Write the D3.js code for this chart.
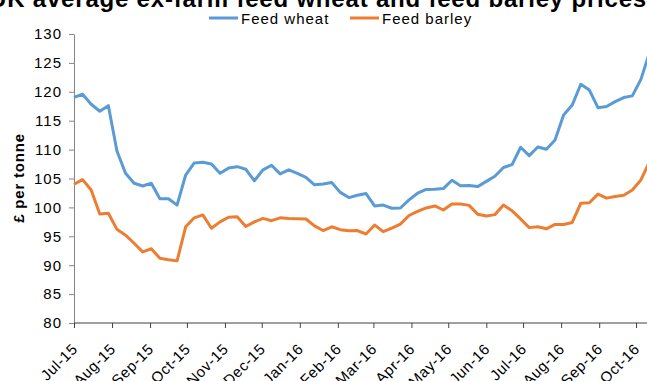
<!DOCTYPE html>
<html>
<head>
<meta charset="utf-8">
<script src="https://cdn.jsdelivr.net/npm/d3@7"></script>
<style>
  html, body { margin: 0; padding: 0; background: #fff; }
  svg { display: block; font-family: Arial, "Liberation Sans", sans-serif; }
</style>
</head>
<body>
<svg id="chart" width="647" height="381"></svg>
<script>
// Weekly ex-farm prices, £ per tonne
const weeks = [
  "2015-07-01","2015-07-08","2015-07-15","2015-07-22","2015-07-29",
  "2015-08-05","2015-08-12","2015-08-19","2015-08-26",
  "2015-09-02","2015-09-09","2015-09-16","2015-09-23","2015-09-30",
  "2015-10-07","2015-10-14","2015-10-21","2015-10-28",
  "2015-11-04","2015-11-11","2015-11-18","2015-11-25",
  "2015-12-02","2015-12-09","2015-12-16","2015-12-23","2015-12-30",
  "2016-01-06","2016-01-13","2016-01-20","2016-01-27",
  "2016-02-03","2016-02-10","2016-02-17","2016-02-24",
  "2016-03-02","2016-03-09","2016-03-16","2016-03-23","2016-03-30",
  "2016-04-06","2016-04-13","2016-04-20","2016-04-27",
  "2016-05-04","2016-05-11","2016-05-18","2016-05-25",
  "2016-06-01","2016-06-08","2016-06-15","2016-06-22","2016-06-29",
  "2016-07-06","2016-07-13","2016-07-20","2016-07-27",
  "2016-08-03","2016-08-10","2016-08-17","2016-08-24","2016-08-31",
  "2016-09-07","2016-09-14","2016-09-21","2016-09-28",
  "2016-10-05","2016-10-12"
];

const feedWheat = [
  119.05, 119.57, 117.84, 116.63, 117.6,
  109.76, 105.9, 104.17, 103.7,
  104.17, 101.5, 101.5, 100.4, 105.6,
  107.7, 107.8, 107.5, 105.9,
  106.8, 107.05, 106.6, 104.6,
  106.5, 107.3, 105.8, 106.5, 105.9,
  105.2, 103.9, 104.05, 104.3,
  102.6, 101.7, 102.1, 102.4,
  100.25, 100.4, 99.85, 99.9, 101.3,
  102.45, 103.1, 103.15, 103.25,
  104.7, 103.75, 103.8, 103.6,
  104.5, 105.4, 106.9, 107.4, 110.4,
  108.95, 110.45, 110.05, 111.65,
  116.0, 117.7, 121.3, 120.3, 117.25,
  117.45, 118.3, 119.0, 119.3,
  122.15, 126.8
];

const feedBarley = [
  104.0, 104.8, 103.0, 98.85, 99.0,
  96.2, 95.2, 93.8, 92.3,
  92.85, 91.2, 90.95, 90.75, 96.65,
  98.2, 98.7, 96.4, 97.5,
  98.3, 98.4, 96.7, 97.5,
  98.1, 97.7, 98.2, 98.1, 98.05,
  98.0, 96.8, 96.0, 96.65,
  96.15, 95.95, 96.0, 95.4,
  96.95, 95.8, 96.4, 97.1, 98.6,
  99.3, 99.9, 100.25, 99.55,
  100.6, 100.6, 100.35, 98.8,
  98.5, 98.75, 100.4, 99.4, 98.0,
  96.5, 96.65, 96.3, 97.05,
  97.05, 97.4, 100.7, 100.8, 102.3,
  101.6, 101.9, 102.1, 103.0,
  104.75, 107.9
];

const monthLabels = [
  "Jul-15","Aug-15","Sep-15","Oct-15","Nov-15","Dec-15","Jan-16","Feb-16",
  "Mar-16","Apr-16","May-16","Jun-16","Jul-16","Aug-16","Sep-16","Oct-16"
];

const yTicks = [80, 85, 90, 95, 100, 105, 110, 115, 120, 125, 130];

const seriesNames = ["Feed wheat", "Feed barley"];
const seriesColors = ["#5B9BD5", "#ED7D31"];

const W = 647, H = 381;
const plotLeft = 74, plotRight = 636, plotTop = 34, plotBottom = 323;
const FONT = "Arial, 'Liberation Sans', sans-serif";

const parseDay = d3.timeParse("%Y-%m-%d");
const parseMonth = d3.timeParse("%b-%y");
const dates = weeks.map(parseDay);
const monthDates = monthLabels.map(parseMonth);

const x = d3.scaleTime()
  .domain([monthDates[0], monthDates[monthDates.length - 1]])
  .range([plotLeft, plotRight]);

const y = d3.scaleLinear()
  .domain([80, 130])
  .range([plotBottom, plotTop]);

const svg = d3.select("#chart");

// Title (runs off the top edge)
svg.append("text")
  .attr("x", 318)
  .attr("y", 7)
  .attr("text-anchor", "middle")
  .attr("font-weight", "bold")
  .attr("font-size", 24)
  .attr("letter-spacing", 0.8)
  .attr("fill", "#000")
  .text("UK average ex-farm feed wheat and feed barley prices");

// Legend
const legend = svg.append("g");
const legendItems = [
  { name: seriesNames[0], color: seriesColors[0], x0: 209 },
  { name: seriesNames[1], color: seriesColors[1], x0: 350 }
];
legendItems.forEach(it => {
  legend.append("line")
    .attr("x1", it.x0).attr("x2", it.x0 + 29)
    .attr("y1", 18).attr("y2", 18)
    .attr("stroke", it.color).attr("stroke-width", 3);
  legend.append("text")
    .attr("x", it.x0 + 32).attr("y", 23.5)
    .attr("font-size", 15).attr("letter-spacing", 1)
    .attr("fill", "#000")
    .text(it.name);
});

// Y axis
const yAxis = d3.axisLeft(y)
  .tickValues(yTicks)
  .tickSize(5)
  .tickPadding(7)
  .tickSizeOuter(0);
const gy = svg.append("g")
  .attr("transform", `translate(${plotLeft},0)`)
  .call(yAxis);
gy.select(".domain").attr("stroke", "#868686").attr("stroke-width", 1);
gy.selectAll(".tick line").attr("stroke", "#868686");
gy.selectAll(".tick text")
  .attr("font-size", 15)
  .attr("letter-spacing", 1)
  .attr("font-family", FONT)
  .attr("fill", "#000");

// Y axis title
svg.append("text")
  .attr("transform", "translate(24,178) rotate(-90)")
  .attr("text-anchor", "middle")
  .attr("font-weight", "bold")
  .attr("font-size", 15)
  .attr("letter-spacing", 0.8)
  .attr("fill", "#000")
  .text("£ per tonne");

// X axis
const xAxis = d3.axisBottom(x)
  .tickValues(monthDates)
  .tickFormat(d3.timeFormat("%b-%y"))
  .tickSize(5)
  .tickSizeOuter(0);
const gx = svg.append("g")
  .attr("transform", `translate(0,${plotBottom})`)
  .call(xAxis);
gx.select(".domain").remove();
gx.append("line")
  .attr("x1", plotLeft).attr("x2", W)
  .attr("y1", 0).attr("y2", 0)
  .attr("stroke", "#404040").attr("stroke-width", 1);
gx.selectAll(".tick line").attr("stroke", "#404040");
gx.selectAll(".tick text")
  .attr("font-size", 15)
  .attr("letter-spacing", 0.6)
  .attr("font-family", FONT)
  .attr("fill", "#000")
  .attr("text-anchor", "end")
  .attr("y", 0)
  .attr("dy", 0)
  .attr("transform", "translate(4,27) rotate(-45)");

// Series lines
const line = d3.line()
  .x((d, i) => x(dates[i]))
  .y(d => y(d));

[feedWheat, feedBarley].forEach((vals, k) => {
  svg.append("path")
    .datum(vals)
    .attr("fill", "none")
    .attr("stroke", seriesColors[k])
    .attr("stroke-width", 3)
    .attr("stroke-linejoin", "round")
    .attr("d", line);
});
</script>
</body>
</html>
